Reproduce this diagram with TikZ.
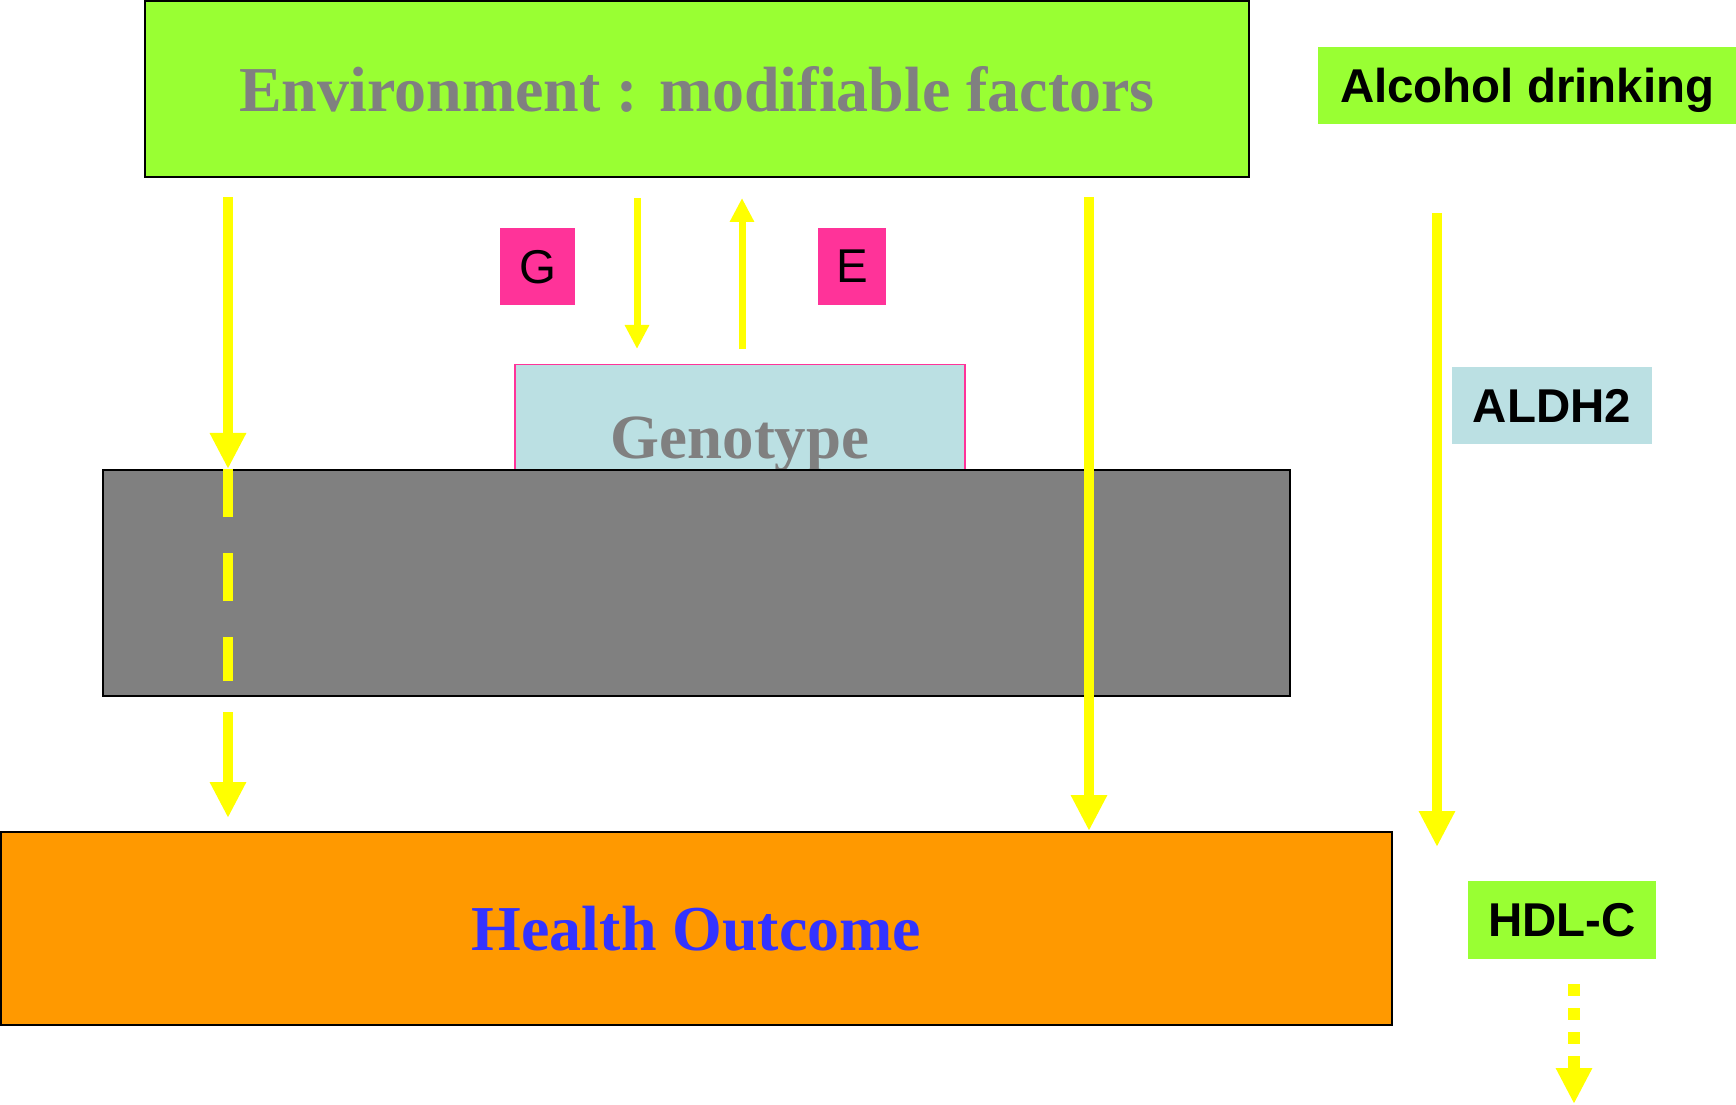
\documentclass[tikz,border=0pt]{standalone}
\usepackage{fontspec}
\setmainfont{Liberation Serif}
\newfontfamily\arialfont{Liberation Sans}
\usetikzlibrary{arrows.meta}
\definecolor{envgreen}{RGB}{153,255,51}
\definecolor{gepink}{RGB}{255,51,153}
\definecolor{genoblue}{RGB}{187,224,227}
\definecolor{outorange}{RGB}{255,153,0}
\definecolor{outblue}{RGB}{51,51,255}
\definecolor{arrowyellow}{RGB}{255,255,0}

\begin{document}
\begin{tikzpicture}[x=0.1mm, y=-0.1mm,
    box/.style={draw=black, line width=0.2mm, inner sep=0pt},
    tag/.style={inner sep=0pt, minimum height=7.7mm, font=\arialfont\bfseries\fontsize{13.5pt}{15pt}\selectfont},
    letter/.style={fill=gepink, inner sep=0pt, minimum height=7.7mm, font=\arialfont\fontsize{13.5pt}{15pt}\selectfont},
    bigarrow/.style={color=arrowyellow, line width=1mm, -{Triangle[length=3.6mm, width=3.4mm]}},
    smallarrow/.style={color=arrowyellow, line width=0.7mm, -{Triangle[length=2.4mm, width=2.3mm]}}]
    \useasboundingbox (0,0) rectangle (1736,1105);

    % Main boxes
    \node[box, fill=envgreen, minimum width=110.4mm, minimum height=17.6mm, text=gray,
          font=\bfseries\fontsize{18.2pt}{20pt}\selectfont] (env) at (697,89) {Environment : modifiable factors};
    \node[draw=gepink, line width=0.15mm, fill=genoblue, inner sep=0pt, minimum width=45mm, minimum height=15.9mm,
          text=gray, font=\bfseries\fontsize{17.9pt}{20pt}\selectfont] (geno) at (740,444) {Genotype};
    \node[box, fill=gray, minimum width=118.7mm, minimum height=22.6mm] (mid) at (696.5,583) {};
    \node[box, fill=outorange, minimum width=139.1mm, minimum height=19.3mm, text=outblue,
          font=\bfseries\fontsize{18.2pt}{20pt}\selectfont] (health) at (696.5,928.5) {Health Outcome};

    % G and E
    \node[letter, minimum width=7.5mm, text depth=0pt] (g) at (537.5,266.5) {G};
    \node[letter, minimum width=6.8mm, text depth=0pt] (e) at (852,266.5) {E};

    % Example on the right
    \node[tag, fill=envgreen, minimum width=41.9mm, text depth=0pt, anchor=west] (alcohol) at (1317,85.5) {Alcohol drinking};
    \node[tag, fill=genoblue, minimum width=20mm] (aldh) at (1552,405.5) {ALDH2};
    \node[tag, fill=envgreen, minimum width=18.8mm, minimum height=7.8mm] (hdl) at (1562,920) {HDL-C};

    % Arrow ends
    \coordinate (l0) at (228,197);
    \coordinate (l1) at (228,681);
    \coordinate (l2) at (228,712);
    \coordinate (l3) at (228,818);
    \coordinate (gd0) at (637,198);
    \coordinate (gd1) at (637,349);
    \coordinate (eu0) at (742,349);
    \coordinate (eu1) at (742,198);
    \coordinate (c0) at (1089,197);
    \coordinate (r0) at (1437,213);
    \coordinate (r1) at (1437,847);
    \coordinate (h0) at (1574,984);
    \coordinate (h1) at (1574,1104);

    % Arrows
    \draw[bigarrow] (l0) -- (l0 |- mid.north);
    \draw[arrowyellow, line width=1mm, dash pattern=on 4.8mm off 3.6mm] (l0 |- mid.north) -- (l1);
    \draw[bigarrow] (l2) -- (l3);
    \draw[smallarrow] (gd0) -- (gd1);
    \draw[smallarrow] (eu0) -- (eu1);
    \draw[bigarrow] (c0) -- (c0 |- health.north);
    \draw[bigarrow] (r0) -- (r1);
    \draw[bigarrow, line width=1.2mm, dash pattern=on 1.2mm off 1.2mm] (h0) -- (h1);
\end{tikzpicture}
\end{document}
